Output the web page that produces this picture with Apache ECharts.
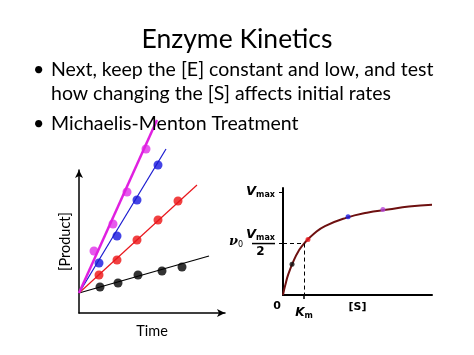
<!DOCTYPE html>
<html><head><meta charset="utf-8">
<script src="https://cdn.jsdelivr.net/npm/echarts@6/dist/echarts.min.js"></script>
<style>html,body{margin:0;padding:0;background:#fff}#c{width:474px;height:355px}</style>
</head><body><div id="c"></div>
<script>
// ---- Left panel: [Product] vs Time at four [S] levels ----
const lineOrigin = [0, 1];
const blackT = [1.05, 1.95, 2.95, 4.15, 5.15];
const blackP = [1.3, 1.5, 1.9, 2.1, 2.3];
const blackEnd = [6.5, 2.85];
const redT = [1.0, 1.9, 2.9, 3.95, 4.95];
const redP = [1.9, 2.65, 3.65, 4.65, 5.6];
const redEnd = [5.9, 6.4];
const blueT = [1.0, 1.9, 2.9, 3.95];
const blueP = [2.5, 3.85, 5.65, 7.4];
const blueEnd = [4.35, 8.2];
const magT = [0.75, 1.7, 2.4, 3.35];
const magP = [3.1, 4.45, 6.05, 8.2];
const magEnd = [3.9, 9.65];

// ---- Right panel: Michaelis-Menten curve (S in units of Km, v in units of Vmax) ----
const curveS = [0, 0.05, 0.1, 0.25, 0.5, 0.75, 1, 1.5, 2, 3, 4, 5, 6, 7.1];
const curveV = [0, 0.048, 0.09, 0.2, 0.33, 0.43, 0.5, 0.6, 0.67, 0.75, 0.8, 0.83, 0.86, 0.877];
const ptS = [0.43, 1.19, 3.1, 4.76];
const ptV = [0.3, 0.54, 0.76, 0.83];
const ptColors = ['#111111', '#e8161c', '#1a1ae0', '#b545d8'];
const Km = 1, Vmax = 1, dashEndS = 7.48;

const zip = (a, b) => a.map((v, i) => [v, b[i]]);

const chart = echarts.init(document.getElementById('c'), null, {renderer: 'canvas'});
const txtFont = 'Lato';
const body = {fontFamily: txtFont, fontWeight: 'normal', fontSize: 19.5, color: '#000'};
const lbl = {fontFamily: 'DejaVu Sans', fontWeight: 'bold', color: '#000'};
chart.setOption({
  backgroundColor: '#fff',
  animation: false,
  title: [
    {text: 'Enzyme Kinetics', left: 'center', top: 26, padding: 0, textStyle: {fontFamily: txtFont, fontWeight: 'normal', fontSize: 26.5, color: '#000'}},
    {text: '•', left: 33, top: 60, padding: 0, textStyle: body},
    {text: 'Next, keep the [E] constant and low, and test', left: 51, top: 60, padding: 0, textStyle: body},
    {text: 'how changing the [S] affects initial rates', left: 51, top: 84, padding: 0, textStyle: body},
    {text: '•', left: 33, top: 114, padding: 0, textStyle: body},
    {text: 'Michaelis-Menton Treatment', left: 51, top: 114, padding: 0, textStyle: body}
  ],
  grid: [
    {left: 79, top: 170, width: 146, height: 143},
    {left: 283, top: 188, width: 149, height: 107}
  ],
  xAxis: [
    {gridIndex: 0, type: 'value', min: 0, max: 7.3, name: 'Time', nameLocation: 'middle', nameGap: 11, nameMoveOverlap: false,
     nameTextStyle: {fontFamily: txtFont, fontSize: 14.5, color: '#000'},
     axisLine: {lineStyle: {color: '#000', width: 1.5}, symbol: ['none', 'arrow'], symbolSize: [6, 8]},
     axisTick: {show: false}, axisLabel: {show: false}, splitLine: {show: false}},
    {gridIndex: 1, type: 'value', min: 0, max: 7.1, name: '[S]', nameLocation: 'middle', nameGap: 7, nameMoveOverlap: false,
     nameTextStyle: Object.assign({fontSize: 11}, lbl),
     axisLine: {lineStyle: {color: '#000', width: 2}},
     axisTick: {customValues: [Km], length: 4, lineStyle: {color: '#000', width: 1.5}}, splitLine: {show: false},
     axisLabel: {customValues: [0, Km], margin: 6,
       formatter: v => v === 0 ? '{z|0}' : '{k|K}{m|m}',
       rich: {
         z: Object.assign({fontSize: 11, padding: [0, 12, 0, 0]}, lbl),
         k: Object.assign({fontStyle: 'italic', fontSize: 12, padding: [5, 0, 0, 0]}, lbl),
         m: Object.assign({fontSize: 8, padding: [11, 0, 0, 0]}, lbl)
       }}}
  ],
  yAxis: [
    {gridIndex: 0, type: 'value', min: 0, max: 7.15, name: '[Product]', nameLocation: 'middle', nameGap: 6, nameRotate: 90, nameMoveOverlap: false,
     nameTextStyle: {fontFamily: txtFont, fontSize: 14.5, color: '#000'},
     axisLine: {lineStyle: {color: '#000', width: 1.5}, symbol: ['none', 'arrow'], symbolSize: [6, 8]},
     axisTick: {show: false}, axisLabel: {show: false}, splitLine: {show: false}},
    {gridIndex: 1, type: 'value', min: 0, max: 1.04, name: '{n|ν}{o|0}', nameLocation: 'middle', nameGap: 40, nameRotate: 0, nameMoveOverlap: false,
     nameTextStyle: {rich: {
       n: {fontFamily: 'DejaVu Serif', fontStyle: 'italic', fontWeight: 'bold', fontSize: 13, color: '#000'},
       o: {fontFamily: 'DejaVu Sans', fontSize: 8, color: '#000', padding: [7, 0, 0, 0]}}},
     axisLine: {lineStyle: {color: '#000', width: 2}},
     axisTick: {customValues: [Vmax / 2, Vmax], length: 4, lineStyle: {color: '#000', width: 1}},
     splitLine: {show: false},
     axisLabel: {customValues: [Vmax / 2, Vmax], margin: 8,
       formatter: v => v === Vmax ? '{v|V}{s|max}' : '{v|V}{s|max}\n{b|x}\n{t|2}',
       rich: {
         v: Object.assign({fontStyle: 'italic', fontSize: 13, lineHeight: 12}, lbl),
         s: Object.assign({fontSize: 8, padding: [6, 0, 0, 0], lineHeight: 12}, lbl),
         b: {width: 23, height: 1.5, backgroundColor: '#000', color: 'rgba(0,0,0,0)', fontSize: 2, lineHeight: 5},
         t: Object.assign({fontSize: 12, lineHeight: 12, align: 'center'}, lbl)
       }}}
  ],
  series: [
    {type: 'line', xAxisIndex: 0, yAxisIndex: 0, clip: false, symbol: 'none', data: [lineOrigin, blackEnd], lineStyle: {color: '#000', width: 1.2}},
    {type: 'line', xAxisIndex: 0, yAxisIndex: 0, clip: false, symbol: 'none', data: [lineOrigin, redEnd], lineStyle: {color: '#e8161c', width: 1.2}},
    {type: 'line', xAxisIndex: 0, yAxisIndex: 0, clip: false, symbol: 'none', data: [lineOrigin, blueEnd], lineStyle: {color: '#1a1ad0', width: 1.2}},
    {type: 'line', xAxisIndex: 0, yAxisIndex: 0, clip: false, symbol: 'none', data: [lineOrigin, magEnd], lineStyle: {color: '#e020e0', width: 2.5}},
    {type: 'scatter', xAxisIndex: 0, yAxisIndex: 0, clip: false, symbolSize: 9, data: zip(blackT, blackP), itemStyle: {color: '#000'}},
    {type: 'scatter', xAxisIndex: 0, yAxisIndex: 0, clip: false, symbolSize: 9, data: zip(redT, redP), itemStyle: {color: '#ee1111'}},
    {type: 'scatter', xAxisIndex: 0, yAxisIndex: 0, clip: false, symbolSize: 9, data: zip(blueT, blueP), itemStyle: {color: '#1515e0'}},
    {type: 'scatter', xAxisIndex: 0, yAxisIndex: 0, clip: false, symbolSize: 9, data: zip(magT, magP), itemStyle: {color: '#e030e8'}},
    {type: 'line', xAxisIndex: 1, yAxisIndex: 1, clip: false, symbol: 'none', smooth: true, data: zip(curveS, curveV),
     lineStyle: {color: '#6e1010', width: 2},
     markLine: {silent: true, symbol: ['none', 'none'], label: {show: false},
       lineStyle: {color: '#000', type: [4, 3], width: 1},
       data: [
         [{coord: [0, Vmax]}, {coord: [dashEndS, Vmax]}],
         [{coord: [0, Vmax / 2]}, {coord: [Km, Vmax / 2]}],
         [{coord: [Km, Vmax / 2]}, {coord: [Km, 0]}]
       ]}},
    {type: 'scatter', xAxisIndex: 1, yAxisIndex: 1, clip: false, symbolSize: 5, z: 5,
     data: zip(ptS, ptV).map((d, i) => ({value: d, itemStyle: {color: ptColors[i]}}))}
  ]
});
</script></body></html>
